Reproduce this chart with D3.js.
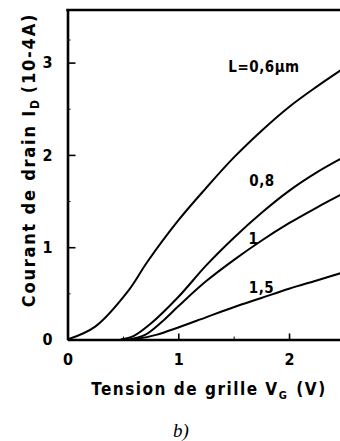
<!DOCTYPE html>
<html>
<head>
<meta charset="utf-8">
<script src="https://cdn.jsdelivr.net/npm/d3@7"></script>
<style>
  html, body { margin: 0; padding: 0; background: #fff; }
  svg { display: block; }
  .lbl { font-family: 'DejaVu Sans Condensed', 'DejaVu Sans', sans-serif; font-weight: bold; fill: #000; }
</style>
</head>
<body>
<div id="display"></div>
<script>
// gate voltage VG (V) and drain current ID (1e-4 A), one pair per channel length
const vg06 = [0, 0.25, 0.55, 0.72, 1.0, 1.25, 1.5, 1.75, 2.0, 2.25, 2.47];
const id06 = [0, 0.14, 0.53, 0.84, 1.29, 1.64, 1.97, 2.26, 2.52, 2.74, 2.92];
const vg08 = [0.48, 0.6, 0.75, 1.0, 1.25, 1.5, 1.75, 2.0, 2.25, 2.47];
const id08 = [0, 0.04, 0.17, 0.46, 0.80, 1.10, 1.37, 1.61, 1.81, 1.96];
const vg10 = [0.55, 0.7, 0.85, 1.0, 1.25, 1.5, 1.75, 2.0, 2.25, 2.47];
const id10 = [0, 0.05, 0.19, 0.36, 0.63, 0.86, 1.07, 1.26, 1.43, 1.57];
const vg15 = [0.6, 0.8, 1.0, 1.25, 1.5, 1.75, 2.0, 2.25, 2.47];
const id15 = [0, 0.05, 0.13, 0.24, 0.35, 0.45, 0.55, 0.64, 0.72];

const curveNames = ['L=0,6µm', '0,8', '1', '1,5'];
const xTicks = [0, 1, 2];
const yTicks = [0, 1, 2, 3];

const w = 340;
const h = 441;
const padLeft = 67.5;
const padRight = 340;
const padTop = 10;
const padBottom = 339.5;

const viz = d3.select('#display').append('svg')
    .attr('width', w)
    .attr('height', h);

const xScale = d3.scaleLinear().domain([0, 2.46]).range([padLeft, padRight]);
const yScale = d3.scaleLinear().domain([0, 3.57]).range([padBottom, padTop]);

const series = [
    vg06.map((v, i) => ({ v, c: id06[i] })),
    vg08.map((v, i) => ({ v, c: id08[i] })),
    vg10.map((v, i) => ({ v, c: id10[i] })),
    vg15.map((v, i) => ({ v, c: id15[i] }))
];

const lineMaker = d3.line()
    .x((d) => xScale(d.v))
    .y((d) => yScale(d.c))
    .curve(d3.curveCatmullRom.alpha(0.5));

viz.append('g').selectAll('path')
    .data(series)
    .enter()
    .append('path')
    .attr('d', lineMaker)
    .attr('fill', 'none')
    .attr('stroke', '#000')
    .attr('stroke-width', 2);

// minor ticks
const minorY = viz.append('g')
    .attr('transform', `translate(${padLeft},0)`)
    .call(d3.axisLeft(yScale).tickValues([0.5, 1.5, 2.5, 3.25]).tickSizeInner(-3).tickSizeOuter(0).tickFormat(''));
const minorX = viz.append('g')
    .attr('transform', `translate(0,${padBottom})`)
    .call(d3.axisBottom(xScale).tickValues([0.5, 1.5]).tickSizeInner(-3).tickSizeOuter(0).tickFormat(''));
[minorY, minorX].forEach((g) => {
    g.select('.domain').remove();
    g.selectAll('line').attr('stroke-width', 1);
});

const yAxisGroup = viz.append('g')
    .attr('transform', `translate(${padLeft},0)`)
    .call(d3.axisLeft(yScale).tickValues(yTicks).tickFormat(d3.format('d'))
        .tickSizeInner(-8).tickSizeOuter(0).tickPadding(15));

const xAxisGroup = viz.append('g')
    .attr('transform', `translate(0,${padBottom})`)
    .call(d3.axisBottom(xScale).tickValues(xTicks).tickFormat(d3.format('d'))
        .tickSizeInner(-6).tickSizeOuter(0).tickPadding(14));

[yAxisGroup, xAxisGroup].forEach((g) => {
    g.select('.domain').attr('stroke-width', 2.6);
    g.selectAll('.tick line').attr('stroke-width', 1.6);
    g.attr('font-family', null).attr('font-size', null);
    g.selectAll('.tick text')
        .attr('class', 'lbl')
        .style('font-size', '16px');
});
yAxisGroup.selectAll('.tick text').attr('text-anchor', 'middle').attr('x', -20);

// top frame line
viz.append('line')
    .attr('x1', padLeft - 1.3).attr('x2', padRight)
    .attr('y1', yScale(3.57)).attr('y2', yScale(3.57))
    .attr('stroke', '#000')
    .attr('stroke-width', 2.6);

// curve labels
const labelPos = [[264, 67], [262, 181], [253.5, 238.5], [261.5, 288]];
viz.append('g').selectAll('text')
    .data(curveNames)
    .enter()
    .append('text')
    .attr('class', 'lbl')
    .attr('x', (d, i) => labelPos[i][0])
    .attr('y', (d, i) => labelPos[i][1])
    .attr('text-anchor', 'middle')
    .attr('dominant-baseline', 'central')
    .style('font-size', '15px')
    .style('letter-spacing', '0.5px')
    .text((d) => d);

// axis titles
const xTitle = viz.append('text')
    .attr('class', 'lbl')
    .attr('x', 209)
    .attr('y', 395)
    .attr('text-anchor', 'middle')
    .style('font-size', '17px')
    .style('letter-spacing', '1.5px');
xTitle.append('tspan').text('Tension de grille V');
xTitle.append('tspan').attr('dy', 4).style('font-size', '11px').text('G');
xTitle.append('tspan').attr('dy', -4).attr('dx', 8).text('(V)');

const yTitle = viz.append('text')
    .attr('class', 'lbl')
    .attr('transform', 'translate(35,160) rotate(-90)')
    .attr('text-anchor', 'middle')
    .style('font-size', '18px')
    .style('letter-spacing', '1.8px');
yTitle.append('tspan').text('Courant de drain I');
yTitle.append('tspan').attr('dy', 4).style('font-size', '12px').text('D');
yTitle.append('tspan').attr('dy', -4).attr('dx', 5).text('(10-4A)');

viz.append('text')
    .attr('x', 181)
    .attr('y', 437)
    .attr('text-anchor', 'middle')
    .style('font-family', "'Liberation Serif', serif")
    .style('font-style', 'italic')
    .style('font-size', '19px')
    .text('b)');
</script>
</body>
</html>
